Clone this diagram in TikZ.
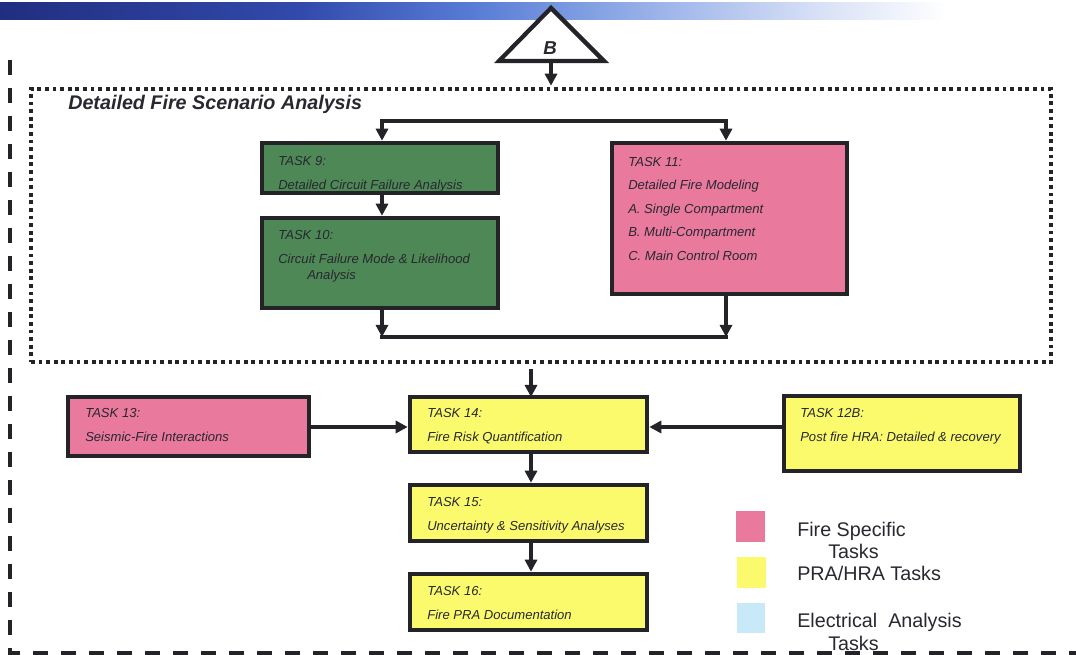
\documentclass[tikz,border=0pt]{standalone}
\usepackage{fontspec}
\setmainfont{Liberation Sans}
\usetikzlibrary{arrows.meta,fit,calc}

% palette
\definecolor{edge}{RGB}{35,35,40}
\definecolor{ink}{RGB}{40,40,48}
\definecolor{taskgreen}{RGB}{78,136,86}
\definecolor{taskpink}{RGB}{233,122,158}
\definecolor{taskyellow}{RGB}{250,250,108}
\definecolor{taskblue}{RGB}{200,234,248}
\definecolor{barA}{RGB}{32,46,128}
\definecolor{barB}{RGB}{50,74,172}
\definecolor{barC}{RGB}{88,124,214}
\definecolor{barD}{RGB}{150,176,232}
\definecolor{barE}{RGB}{215,224,246}

% banner along the top edge
\pgfdeclarehorizontalshading{topbar}{100bp}{color(0bp)=(barA); color(25bp)=(barA); color(39bp)=(barB); color(47bp)=(barC); color(55bp)=(barD); color(63bp)=(barE); color(69bp)=(white); color(100bp)=(white)}

\newcommand\taskfont{\fontsize{9.8}{12}\selectfont\itshape}
\newcommand\legendfont{\fontsize{14.8}{17}\selectfont}

\tikzset{
  task/.style={draw=edge, line width=3.4pt, inner sep=0pt},
  swatch/.style={inner sep=0pt},
  lbl/.style={anchor=base west, inner sep=0pt, font=\taskfont, text=ink},
  leg/.style={anchor=base west, inner sep=0pt, font=\legendfont, text=ink},
  tip/.tip={Triangle[length=9pt,width=9pt]},
  flow/.style={draw=edge, line width=3pt, -tip},
  link/.style={draw=edge, line width=3pt},
  dotframe/.style={draw=edge, line width=2.9pt, dash pattern=on 2.8pt off 2.9pt, inner sep=0pt},
  dashframe/.style={draw=edge, line width=2.6pt, dash pattern=on 11pt off 10pt},
}

\begin{document}
\begin{tikzpicture}[x=0.75pt,y=-0.75pt]
\useasboundingbox (0,0) rectangle (1076,655);

% top banner
\shade[shading=topbar] (0,3) rectangle (1076,20);

% outer dashed frame (left and bottom sides)
\draw[dashframe] (10,60) -- (10,653) -- (1076,653);

% off-page connector B
\draw[edge, line width=3.2pt, fill=white, line join=miter] (551,8) -- (604,61) -- (499,61) -- cycle;
\node[font=\fontsize{14}{16}\selectfont\bfseries\itshape, text=ink, inner sep=0pt] (bmark) at (550,48) {B};
\coordinate (bbase) at (551,62);

% detailed fire scenario analysis group
\node[dotframe, fit={(31,89) (1051,362)}] (dfsa) {};
\node[anchor=base west, inner sep=0pt, font=\fontsize{14.8}{17}\selectfont\bfseries\itshape, text=ink] (dfsatitle) at (68,110) {Detailed Fire Scenario Analysis};

% task boxes
\node[task, fill=taskgreen, fit={(262,143) (498,193)}] (t9) {};
\node[task, fill=taskgreen, fit={(262,218) (498,308)}] (t10) {};
\node[task, fill=taskpink, fit={(612,143) (847,294)}] (t11) {};
\node[task, fill=taskpink, fit={(68,397) (309,456)}] (t13) {};
\node[task, fill=taskyellow, fit={(410,397) (647,452)}] (t14) {};
\node[task, fill=taskyellow, fit={(784,396) (1020,471)}] (t12b) {};
\node[task, fill=taskyellow, fit={(410,485) (647,541)}] (t15) {};
\node[task, fill=taskyellow, fit={(410,574) (647,630)}] (t16) {};

% task texts
\node[lbl] (t9a) at (278,165.5) {TASK 9:};
\node[lbl] (t9b) at (278,190) {Detailed Circuit Failure Analysis};
\node[lbl] (t10a) at (278,239.5) {TASK 10:};
\node[lbl] (t10b) at (278,263.5) {Circuit Failure Mode \& Likelihood};
\node[lbl] (t10c) at (307,279.5) {Analysis};
\node[lbl] (t11a) at (628,166.5) {TASK 11:};
\node[lbl] (t11b) at (628,189.5) {Detailed Fire Modeling};
\node[lbl] (t11c) at (628,213.5) {A. Single Compartment};
\node[lbl] (t11d) at (628,237) {B. Multi-Compartment};
\node[lbl] (t11e) at (628,260.5) {C. Main Control Room};
\node[lbl] (t13a) at (85,417.5) {TASK 13:};
\node[lbl] (t13b) at (85,441.5) {Seismic-Fire Interactions};
\node[lbl] (t14a) at (427,417.5) {TASK 14:};
\node[lbl] (t14b) at (427,441.5) {Fire Risk Quantification};
\node[lbl] (t12ba) at (800,417.5) {TASK 12B:};
\node[lbl] (t12bb) at (800,441.5) {Post fire HRA: Detailed \& recovery};
\node[lbl] (t15a) at (427,506.5) {TASK 15:};
\node[lbl] (t15b) at (427,530.5) {Uncertainty \& Sensitivity Analyses};
\node[lbl] (t16a) at (427,595.5) {TASK 16:};
\node[lbl] (t16b) at (427,619.5) {Fire PRA Documentation};

% connectors
\draw[flow, shorten >=1pt] (bbase) -- (bbase |- dfsa.north);

\coordinate (sp9) at (382,121);
\coordinate (sp11) at (726,121);
\draw[link, tip-tip] (sp9 |- t9.north) -- (sp9) -- (sp11) -- (sp11 |- t11.north);
\draw[flow] (t9.south -| sp9) -- (t10.north -| sp9);

\coordinate (m10) at (382,337);
\coordinate (m11) at (726,337);
\draw[link, line cap=rect] (m10) -- (m11);
\draw[flow] (t10.south -| m10) -- (m10);
\draw[flow] (t11.south -| m11) -- (m11);

\coordinate (t14in) at (531,397);
\draw[flow, shorten <=4pt] (t14in |- dfsa.south) -- (t14in);
\draw[flow] (t13.east |- 0,427) -- (t14.west |- 0,427);
\draw[flow] (t12b.west |- 0,427) -- (t14.east |- 0,427);
\draw[flow] (t14.south -| t14in) -- (t15.north -| t14in);
\draw[flow] (t15.south -| t14in) -- (t16.north -| t14in);

% legend
\node[swatch, fill=taskpink, fit={(736,511) (765,542)}] (kpink) {};
\node[swatch, fill=taskyellow, fit={(737,557) (766,588)}] (kyellow) {};
\node[swatch, fill=taskblue, fit={(737,603) (765,633)}] (kblue) {};
\node[leg] (kpinka) at (797,536.5) {Fire Specific};
\node[leg] (kpinkb) at (828,558.5) {Tasks};
\node[leg] (kyellowa) at (797,580.5) {PRA/HRA Tasks};
\node[leg] (kbluea) at (797,627.5) {Electrical\ \ Analysis};
\node[leg] (kblueb) at (828,650.5) {Tasks};
\end{tikzpicture}
\end{document}
